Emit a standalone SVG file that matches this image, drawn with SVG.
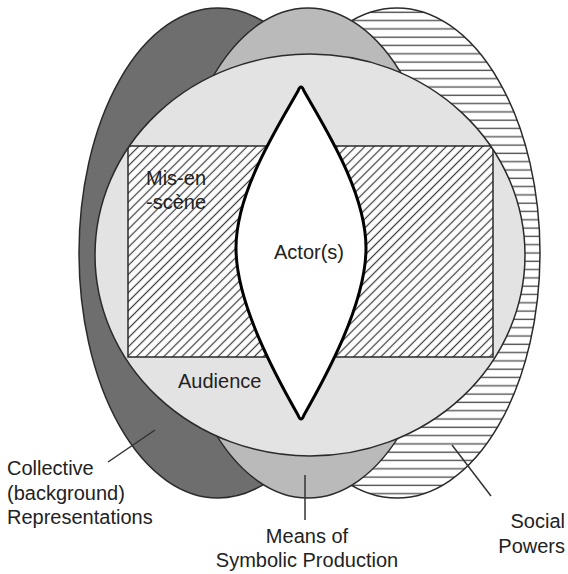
<svg xmlns="http://www.w3.org/2000/svg" width="568" height="574" viewBox="0 0 568 574">
  <defs>
    <pattern id="hstripes" patternUnits="userSpaceOnUse" width="10" height="8.3">
      <rect width="10" height="8.3" fill="#ffffff"/>
      <line x1="0" y1="4" x2="10" y2="4" stroke="#555555" stroke-width="1.4"/>
    </pattern>
    <pattern id="diag" patternUnits="userSpaceOnUse" width="6.4" height="10" patternTransform="rotate(45)">
      <rect width="6.4" height="10" fill="#ffffff"/>
      <line x1="3.2" y1="0" x2="3.2" y2="10" stroke="#3a3a3a" stroke-width="1.2"/>
    </pattern>
    <ellipse id="audienceShape" cx="310" cy="255" rx="215" ry="201"/>
    <clipPath id="audienceClip">
      <use href="#audienceShape"/>
    </clipPath>
  </defs>
  <style>
    .outline { stroke: #2a2a2a; stroke-width: 1.5; }
    .label { font-family: "Liberation Sans", Arial, sans-serif; font-size: 20px; fill: #222222; }
    .leader { stroke: #333333; stroke-width: 1.5; fill: none; }
  </style>
  <rect width="568" height="574" fill="#ffffff"/>

  <g id="collective-representations">
    <ellipse class="outline" cx="218" cy="253" rx="139" ry="245" fill="#6e6e6e"/>
  </g>
  <g id="social-powers">
    <ellipse class="outline" cx="397" cy="253" rx="143" ry="245" fill="url(#hstripes)"/>
  </g>
  <g id="means-of-symbolic-production">
    <ellipse class="outline" cx="308" cy="253" rx="137" ry="245" fill="#bababa"/>
  </g>
  <g id="audience">
    <use href="#audienceShape" fill="#e3e3e3"/>
    <text class="label" x="178" y="388">Audience</text>
  </g>
  <g id="mis-en-scene">
    <g clip-path="url(#audienceClip)">
      <rect class="outline" x="128" y="146" width="365" height="211" fill="url(#diag)"/>
    </g>
    <text class="label" x="146" y="185">Mis-en</text>
    <text class="label" x="146" y="209">-scène</text>
  </g>
  <g id="audience-outline">
    <use href="#audienceShape" fill="none" class="outline"/>
  </g>
  <g id="actors">
    <path d="M 298 91 Q 301 83 304 91 C 325 128, 366 192, 366 248 C 366 304, 325 378, 304 415 Q 301 423 298 415 C 277 378, 236 304, 236 248 C 236 192, 277 128, 298 91 Z" fill="#ffffff" stroke="#000000" stroke-width="3" stroke-linejoin="round"/>
    <text class="label" x="309" y="259" text-anchor="middle">Actor(s)</text>
  </g>

  <g id="connectors">
    <line class="leader" x1="108" y1="462" x2="155" y2="430"/>
    <line class="leader" x1="305" y1="475" x2="305" y2="520"/>
    <line class="leader" x1="452" y1="445" x2="491" y2="496"/>
  </g>

  <g id="labels">
    <text class="label" x="7" y="475">Collective</text>
    <text class="label" x="7" y="500">(background)</text>
    <text class="label" x="7" y="524">Representations</text>
    <text class="label" x="307" y="543" text-anchor="middle">Means of</text>
    <text class="label" x="307" y="567" text-anchor="middle">Symbolic Production</text>
    <text class="label" x="565" y="528" text-anchor="end">Social</text>
    <text class="label" x="565" y="553" text-anchor="end">Powers</text>
  </g>
</svg>
